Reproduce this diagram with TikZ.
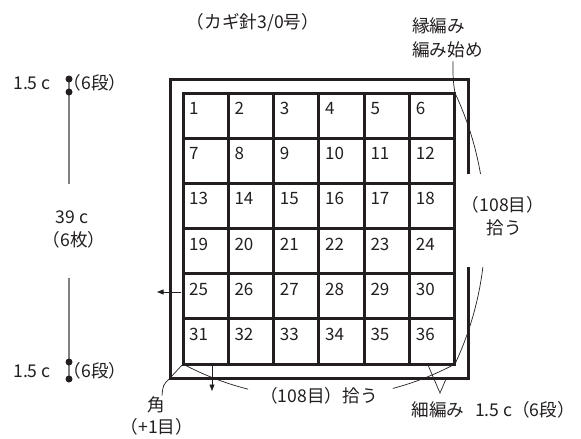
\documentclass[tikz,border=0pt]{standalone}
\usepackage{fontspec}
\setmainfont{Noto Sans CJK JP}
\usetikzlibrary{arrows.meta}
\definecolor{ink}{HTML}{231F20}
\begin{document}
\begin{tikzpicture}[x=1pt,y=-1pt,
  font=\fontsize{17}{20}\selectfont,
  frame/.style={draw=ink, line width=3pt},
  cell/.style={draw=ink, line width=3pt, minimum width=45.33pt, minimum height=45.17pt, inner sep=0pt, outer sep=0pt},
  num/.style={anchor=north west, inner sep=0pt, text=ink},
  lead/.style={draw=ink, line width=0.7pt},
  arr/.style={lead, -{Triangle[length=6.5pt,width=5pt]}},
  dim/.style={draw=gray, line width=1.3pt},
  dotnode/.style={circle, fill=ink, minimum size=7pt, inner sep=0pt},
  lbl/.style={inner sep=0pt, text=ink, font=\fontsize{17.6}{20}\selectfont}]
\useasboundingbox (0,0) rectangle (581,439);
% grid of motifs
\foreach \r in {0,...,5} {
  \foreach \c in {0,...,5} {
    \pgfmathtruncatemacro\n{\r*6+\c+1}
    \node[cell] (c\n) at ({183+45.33*(\c+0.5)},{93+45.17*(\r+0.5)}) {};
    \node[num] (n\n) at ([shift={(6,9)}]c\n.north west) {\n};
  }
}
% outer border
\coordinate (fTL) at (170,79);
\coordinate (fTR) at (468,79);
\coordinate (fBL) at (170,378);
\coordinate (fBR) at (468,378);
\coordinate (fR1) at (468,174);
\coordinate (fR2) at (468,267);
\draw[frame] (fR1) -- (fTR) -- (fTL) -- (fBL) -- (fBR) -- (fR2);
\draw[lead] (fBL) -- (c31.south west);
% pick-up arcs
\draw[lead] (c6.north east) arc[start angle=-25.16, end angle=-9.85, radius=318.75];
\draw[lead] (c36.south east) arc[start angle=25.16, end angle=6.94, radius=318.75];
\draw[lead] (c31.south west) arc[start angle=118.07, end angle=104.2, radius=289];
\draw[lead] (c36.south east) arc[start angle=61.93, end angle=75.2, radius=289];
% labels
\node[lbl] (title) at (253,23) {（カギ針3/0号）};
\node[lbl, anchor=west] (t1) at (412,26) {縁編み};
\node[lbl, anchor=west] (t2) at (412,50) {編み始め};
\draw[lead] ([shift={(41,3)}]t2.south west) .. controls (453,80) .. (c6.north east);
\node[lbl] (r1) at (503,205) {（108目）};
\node[lbl] (r2) at (504,228) {拾う};
\node[lbl] (b1) at (319,396) {（108目）拾う};
\node[lbl] (k1) at (156,405) {角};
\node[lbl] (k2) at (157,427) {（+1目）};
\draw[lead] ([shift={(6,-1)}]k1.north) .. controls (163,385) .. (fBL);
\node[lbl] (s1) at (438,410) {細編み};
\node[lbl] (s2) at (525,410) {1.5 c（6段）};
\coordinate (va) at (440,393);
\coordinate (vg) at (428,365);
\coordinate (vf) at (446,379);
\draw[lead] (vg) -- (va) -- (vf);
% arrows
\coordinate (la0) at (181,292);
\coordinate (la) at (157,292);
\draw[arr] (la0) -- (la);
\coordinate (da0) at (212,365);
\coordinate (da) at (212,391);
\draw[arr] (da0) -- (da);
% dimension line
\coordinate (p1) at (69,79);
\coordinate (p2) at (69,92);
\coordinate (p3) at (69,362);
\coordinate (p4) at (69,379);
\coordinate (g1) at (69,184);
\coordinate (g2) at (69,278);
\draw[dim] (p1) -- (g1);
\draw[dim] (g2) -- (p4);
\node[dotnode] (d1) at (p1) {};
\node[dotnode] (d2) at (p2) {};
\node[dotnode] (d3) at (p3) {};
\node[dotnode] (d4) at (p4) {};
\node[lbl] (l1) at (32,83) {1.5 c};
\node[lbl] (l2) at (95,83) {（6段）};
\node[lbl] (l39) at (72,217) {39 c};
\node[lbl] (l6) at (74,240) {（6枚）};
\node[lbl] (l3) at (32,371) {1.5 c};
\node[lbl] (l4) at (95,371) {（6段）};
\end{tikzpicture}
\end{document}
